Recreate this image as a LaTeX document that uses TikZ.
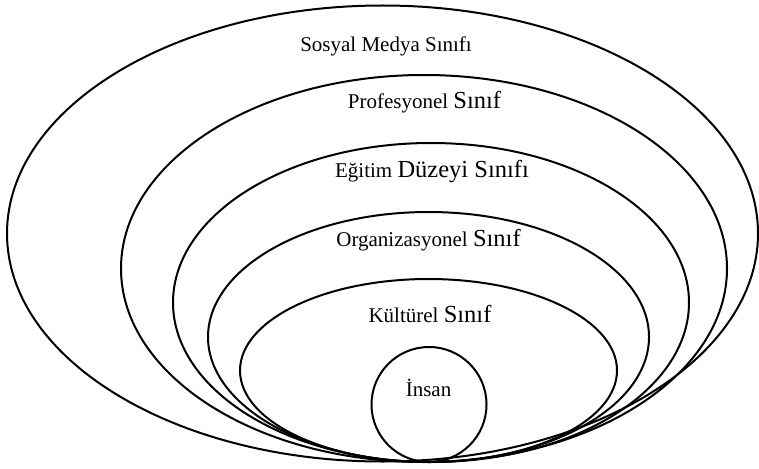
\documentclass[tikz,border=0pt]{standalone}
\usepackage{fontspec}
\setmainfont{Liberation Serif}
\usetikzlibrary{shapes.geometric}
\begin{document}
\begin{tikzpicture}[x=1pt,y=-1pt,
  ring/.style={draw=black, line width=2pt, ellipse, inner sep=0pt, outer sep=0pt},
  ball/.style={draw=black, line width=2pt, circle, inner sep=0pt, outer sep=0pt},
  lab/.style={anchor=base, inner sep=0pt, font=\fontsize{21}{24}\selectfont},
  big/.style={font=\fontsize{24.5}{28}\selectfont}]
  \useasboundingbox (0,0) rectangle (759,468);
  % nested class layers, all resting on the same bottom line
  \node[ring, minimum width=751pt, minimum height=456pt] (sosyal) at (382.5,233.5) {};
  \node[ring, minimum width=606pt, minimum height=387pt] (prof) at (424,268.5) {};
  \node[ring, minimum width=516pt, minimum height=319pt] (egitim) at (431,302.5) {};
  \node[ring, minimum width=441pt, minimum height=250pt] (org) at (428.5,337) {};
  \node[ring, minimum width=377pt, minimum height=183pt] (kultur) at (428.5,370.5) {};
  \node[ball, minimum size=115pt] (insan) at (429,404.5) {};
  % layer names
  \node[lab] (sosyallbl) at (386,52) {Sosyal Medya Sınıfı};
  \node[lab] (proflbl) at (424.5,108) {Profesyonel {\fontsize{24.5}{28}\selectfont Sınıf}};
  \node[lab] (egitimlbl) at (432,177) {Eğitim {\fontsize{24.5}{28}\selectfont Düzeyi Sınıfı}};
  \node[lab] (orglbl) at (428.5,246) {Organizasyonel {\fontsize{24.5}{28}\selectfont Sınıf}};
  \node[lab] (kulturlbl) at (430,322) {Kültürel {\fontsize{24.5}{28}\selectfont Sınıf}};
  \node[lab] (insanlbl) at (428.5,396) {İnsan};
\end{tikzpicture}
\end{document}
